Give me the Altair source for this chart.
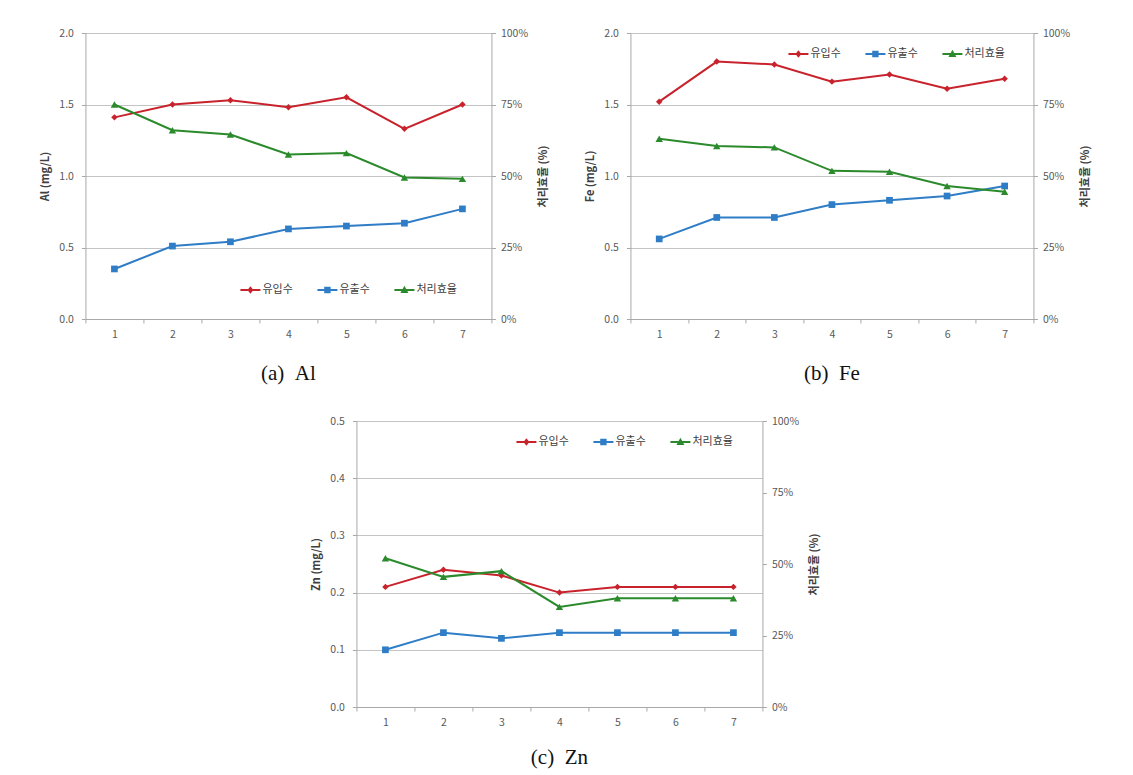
import altair as alt
import pandas as pd

# ---------------- data ----------------
x_labels = [1, 2, 3, 4, 5, 6, 7]
series_names = ["유입수", "유출수", "처리효율"]
series_colors = ["#C8232C", "#2E7DC6", "#2B8A2B"]

al_inflow = [1.41, 1.50, 1.53, 1.48, 1.55, 1.33, 1.50]
al_outflow = [0.35, 0.51, 0.54, 0.63, 0.65, 0.67, 0.77]
al_eff = [75.0, 66.0, 64.5, 57.5, 58.0, 49.5, 49.0]
al_ticks = [0.0, 0.5, 1.0, 1.5, 2.0]

fe_inflow = [1.52, 1.80, 1.78, 1.66, 1.71, 1.61, 1.68]
fe_outflow = [0.56, 0.71, 0.71, 0.80, 0.83, 0.86, 0.93]
fe_eff = [63.0, 60.5, 60.0, 51.8, 51.5, 46.5, 44.5]
fe_ticks = [0.0, 0.5, 1.0, 1.5, 2.0]

zn_inflow = [0.21, 0.24, 0.23, 0.20, 0.21, 0.21, 0.21]
zn_outflow = [0.10, 0.13, 0.12, 0.13, 0.13, 0.13, 0.13]
zn_eff = [52.0, 45.5, 47.5, 35.0, 38.0, 38.0, 38.0]
zn_ticks = [0.0, 0.1, 0.2, 0.3, 0.4, 0.5]

eff_ticks = [0, 25, 50, 75, 100]

# legend symbols: line segment + marker (unit square paths)
legend_paths = [
    "M-1,-0.1L1,-0.1L1,0.1L-1,0.1Z M0,-0.38L0.3,0L0,0.38L-0.3,0Z",
    "M-1,-0.1L1,-0.1L1,0.1L-1,0.1Z M-0.32,-0.32L0.32,-0.32L0.32,0.32L-0.32,0.32Z",
    "M-1,-0.1L1,-0.1L1,0.1L-1,0.1Z M0,-0.42L0.4,0.3L-0.4,0.3Z",
]

KFONT = "Noto Sans CJK KR"
GRID = "#C4C4C4"
DOMAIN = "#A8A8A8"
LABEL = "#595959"

H = 286


def panel(inflow, outflow, eff, yticks, ytitle, caption, lx, ly, width, cap_offset):
    df_in = pd.DataFrame({"x": x_labels, "value": inflow})
    df_out = pd.DataFrame({"x": x_labels, "value": outflow})
    effdf = pd.DataFrame({"x": x_labels, "eff": eff, "series": [series_names[2]] * 7})
    ymax = yticks[-1]

    xenc = alt.X(
        "x:O",
        scale=alt.Scale(paddingInner=0, paddingOuter=0),
        axis=alt.Axis(title=None, labelAngle=0, tickBand="extent", tickSize=4,
                      labelPadding=6, grid=False, domainColor=DOMAIN, tickColor=DOMAIN),
    )
    ly_enc = alt.Y(
        "value:Q",
        scale=alt.Scale(domain=[0, ymax], nice=False),
        axis=alt.Axis(title=ytitle, values=yticks, format=".1f",
                      grid=True, gridColor=GRID, tickSize=4, labelPadding=8,
                      titlePadding=8, titleFontWeight="bold", domainColor=DOMAIN, tickColor=DOMAIN),
    )
    ry_enc = alt.Y(
        "eff:Q",
        scale=alt.Scale(domain=[0, 100], nice=False),
        axis=alt.Axis(title="처리효율 (%)", orient="right", values=eff_ticks,
                      labelExpr="datum.value + '%'", grid=False, tickSize=4, labelPadding=5,
                      titlePadding=21, titleAngle=-90, titleFontWeight="bold",
                      domainColor=DOMAIN, tickColor=DOMAIN),
    )

    line_in = alt.Chart(df_in).mark_line(strokeWidth=2, color=series_colors[0]).encode(x=xenc, y=ly_enc)
    pts_in = alt.Chart(df_in).mark_point(shape="diamond", filled=True, size=42, opacity=1,
                                         color=series_colors[0]).encode(x=xenc, y=ly_enc)
    line_out = alt.Chart(df_out).mark_line(strokeWidth=2, color=series_colors[1]).encode(x=xenc, y=ly_enc)
    pts_out = alt.Chart(df_out).mark_point(shape="square", filled=True, size=45, opacity=1,
                                           color=series_colors[1]).encode(x=xenc, y=ly_enc)
    left = alt.layer(line_in, pts_in, line_out, pts_out)

    leg = alt.Legend(orient="none", legendX=lx, legendY=ly, direction="horizontal", columns=3,
                     gridAlign="all", title=None, symbolSize=400, symbolOpacity=1,
                     symbolStrokeWidth=0, labelFont=KFONT, labelFontSize=11, labelColor="#404040",
                     columnPadding=14, labelOffset=2, padding=0)

    line_eff = alt.Chart(effdf).mark_line(strokeWidth=2, color=series_colors[2]).encode(x=xenc, y=ry_enc)
    pts_eff = alt.Chart(effdf).mark_point(shape="triangle-up", filled=True, size=55, opacity=1,
                                          color=series_colors[2]).encode(x=xenc, y=ry_enc)
    dummy = alt.Chart(effdf).mark_point(filled=True, opacity=0).encode(
        x=xenc, y=ry_enc,
        color=alt.Color("series:N", scale=alt.Scale(domain=series_names, range=series_colors), legend=leg),
        shape=alt.Shape("series:N", scale=alt.Scale(domain=series_names, range=legend_paths), legend=leg),
    )
    right = alt.layer(line_eff, pts_eff, dummy)

    return alt.layer(left, right).resolve_scale(y="independent").properties(
        width=width, height=H,
        title=alt.TitleParams(caption, orient="bottom", font="Liberation Serif", fontSize=21,
                              fontWeight="normal", color="#111111", offset=cap_offset),
    )


a = panel(al_inflow, al_outflow, al_eff, al_ticks, "Al (mg/L)", "(a)\u00a0\u00a0Al", 155, 247, 406, 23)
b = panel(fe_inflow, fe_outflow, fe_eff, fe_ticks, "Fe (mg/L)", "(b)\u00a0\u00a0Fe", 158, 11, 403, 23)
c = panel(zn_inflow, zn_outflow, zn_eff, zn_ticks, "Zn (mg/L)", "(c)\u00a0\u00a0Zn", 160, 11, 406, 19)

row1 = alt.hconcat(a, b, spacing=35).resolve_scale(color="independent", shape="independent")
chart = alt.vconcat(row1, c, spacing=32, center=True).resolve_scale(
    color="independent", shape="independent"
).properties(
    padding={"left": 31, "top": 20, "right": 5, "bottom": 5}
).configure_view(stroke=None).configure_axis(
    labelFont=KFONT, labelFontSize=10.5, labelColor=LABEL,
    titleFont=KFONT, titleFontSize=11, titleColor="#404040",
)

chart.save("out.html", embed_options={"renderer": "svg", "actions": False})
